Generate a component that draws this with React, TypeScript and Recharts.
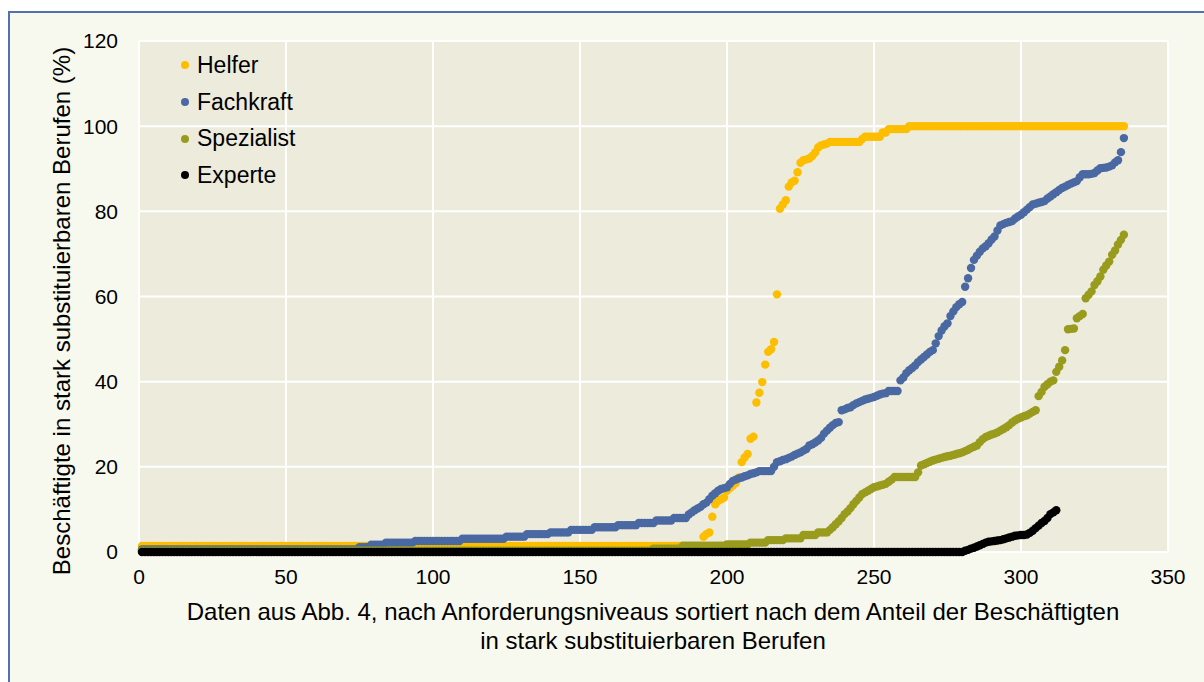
import { ScatterChart, Scatter, XAxis, YAxis, CartesianGrid } from "recharts";

// values per series: a plain number is one occupation, [value, count] is a run of equal values
type Run = number | [number, number];

const helferRuns: Run[] = [
  [1.4, 191],
  3.6, 4.2, 4.6, 8.3, 11.2, 12.0, 12.4, 12.8, 14.4, 15.0, 15.6, 16.2, 17.5, 21.1, 22.2,
  23.0, 26.6, 27.1, 35.1, 37.4, 39.9, 44.0, 47.0, 47.6, 49.3, 60.5, 80.6, 81.6, 82.6,
  85.8, 86.8, 87.2, 89.2, 91.4, 92.0, 92.2, 92.4, 93.0, 93.8, 95.0, 95.5, 95.7, 95.9,
  [96.3, 11], 97.0, [97.5, 6], [98.5, 2], [99.3, 7], [100, 74],
];

const fachkraftRuns: Run[] = [
  [0.6, 74], [1.1, 4], [1.7, 5], [2.2, 10], [2.6, 16], [3.1, 15], [3.6, 7], [4.2, 8],
  [4.6, 7], [5.2, 8], [5.8, 8], [6.3, 7], [6.8, 6], [7.4, 6], [8.0, 5],
  8.8, 9.3, 9.8, 10.2, 10.6, 11.2, 11.6, 12.4, 13.2, 13.8, 14.4, 14.8, 15.0, 15.2, 16.0,
  16.7, 17.0, 17.3, 17.5, 17.8, 18.0, 18.3, 18.5, 18.7,
  [19.0, 5],
  20.0, 21.1, 21.3, 21.6, 21.8, 22.1, 22.4, 22.8, 23.1, 23.4, 23.8, 24.2, 25.0, 25.3, 25.7,
  26.2, 26.8, 27.8, 28.5, 29.2, 29.8, 30.3, 30.5, 33.3, 33.5, 33.8, 34.0, 34.5, 34.9, 35.2,
  35.5, 35.8, 36.0, 36.2, 36.4, 36.7, 37.0, 37.2, 37.3,
  [37.8, 4],
  40.3, 41.0, 42.0, 42.7, 43.2, 43.8, 44.6, 45.2, 45.8, 46.4, 47.0, 47.4, 49.0, 50.7, 52.0,
  53.0, 53.7, 55.4, 56.5, 57.5, 58.2, 58.7, 62.3, 64.3, 66.7, 68.6, 69.6, 70.5, 71.3, 71.8,
  72.5, 73.4, 74.1, 75.5, 76.7, 77.0, 77.3, 77.5, 77.7, 78.3, 78.8, 79.2, 79.8, 80.4, 81.0,
  81.6, 81.8, 82.0, 82.2, 82.4, 83.0, 83.5, 84.0, 84.5, 85.0, 85.5, 85.8, 86.2, 86.5, 86.8,
  87.1, 88.0, 88.7, 88.7, 88.7, 88.8, 89.0, 89.6, 90.1, 90.2, 90.3, 90.5, 90.8, 91.5, 92.0,
  93.9, 97.2,
];

const spezialistRuns: Run[] = [
  [0.3, 174], [0.8, 10], [1.5, 15], [1.8, 8], [2.2, 6], [2.8, 6], [3.2, 6], [4.0, 5], [4.6, 4],
  5.2, 5.8, 6.5, 7.2, 8.0, 8.9, 9.5, 10.3, 11.2, 12.0, 12.8, 13.6, 14.0, 14.4, 14.8, 15.2,
  15.4, 15.6, 15.8, 16.0, 16.5, 17.0,
  [17.6, 8],
  18.7, 20.3, 20.6, 20.9, 21.2, 21.5, 21.7, 21.9, 22.1, 22.3, 22.5, 22.6, 22.8, 23.0, 23.2,
  23.4, 23.7, 24.0, 24.4, 24.7, 25.0, 25.8, 26.5, 27.0, 27.3, 27.6, 27.8, 28.1, 28.5, 28.9,
  29.3, 29.8, 30.4, 30.9, 31.3, 31.6, 31.9, 32.1, 32.5, 32.9, 33.3, 36.6, 37.6, 38.8, 39.4,
  40.0, 40.3, 42.3, 43.5, 45.0, 47.4, 52.3, 52.4, 52.5, 54.9, 55.4, 55.9, 59.6, 60.4, 61.2,
  62.7, 63.6, 64.7, 66.3, 67.3, 68.2, 69.8, 70.8, 72.2, 73.3, 74.5,
];

const experteRuns: Run[] = [
  [0, 280],
  0.3, 0.5, 0.8, 1.0, 1.3, 1.6, 1.9, 2.2, 2.4, 2.5, 2.6, 2.7, 2.8, 3.0, 3.2, 3.4, 3.6, 3.8,
  3.9, 4.0, 4.0, 4.1, 4.5, 5.0, 5.6, 6.2, 6.8, 7.3, 8.0, 8.9, 9.3, 9.8,
];

const xTicks = [0, 50, 100, 150, 200, 250, 300, 350];
const yTicks = [0, 20, 40, 60, 80, 100, 120];

const expand = (runs: Run[]) => {
  const values: number[] = [];
  runs.forEach((r) => {
    if (Array.isArray(r)) {
      for (let i = 0; i < r[1]; i++) values.push(r[0]);
    } else values.push(r);
  });
  return values.map((y, i) => ({ x: i + 1, y }));
};

const series = [
  { name: "Helfer", color: "#FDBE00", data: expand(helferRuns) },
  { name: "Fachkraft", color: "#4A69A3", data: expand(fachkraftRuns) },
  { name: "Spezialist", color: "#999B1C", data: expand(spezialistRuns) },
  { name: "Experte", color: "#000000", data: expand(experteRuns) },
];

const FONT = "'Liberation Sans', Arial, sans-serif";

export default function App() {
  return (
    <div style={{ position: "absolute", left: 0, top: 0, width: 1204, height: 682, background: "#fff", overflow: "hidden" }}>
      <div
        style={{
          position: "absolute",
          left: 8,
          top: 11,
          width: 1210,
          height: 690,
          background: "#F8F9EE",
          border: "2px solid #5172AE",
        }}
      />
      <div style={{ position: "absolute", left: 0, top: 0 }}>
        <ScatterChart width={1204} height={682} margin={{ top: 41, right: 36, bottom: 100, left: 79 }}>
          <CartesianGrid fill="#ECEBDC" stroke="#FFFFFF" strokeWidth={2} />
          <XAxis
            type="number"
            dataKey="x"
            domain={[0, 350]}
            ticks={xTicks}
            axisLine={false}
            tickLine={false}
            tickSize={0}
            tickMargin={17}
            height={30}
            tick={{ fill: "#000", fontSize: 21, fontFamily: FONT }}
          />
          <YAxis
            type="number"
            dataKey="y"
            domain={[0, 120]}
            ticks={yTicks}
            axisLine={false}
            tickLine={false}
            tickSize={0}
            tickMargin={21}
            width={60}
            tick={{ fill: "#000", fontSize: 21, fontFamily: FONT }}
          />
          {series.map((s) => (
            <Scatter
              key={s.name}
              name={s.name}
              data={s.data}
              fill={s.color}
              isAnimationActive={false}
              shape={(p: any) => <circle cx={p.cx} cy={p.cy} r={4.2} fill={s.color} />}
            />
          ))}
        </ScatterChart>
      </div>
      <div style={{ position: "absolute", left: 181, top: 47, fontFamily: FONT, fontSize: 23, color: "#000" }}>
        {series.map((s) => (
          <div key={s.name} style={{ height: 36.7, display: "flex", alignItems: "center", whiteSpace: "nowrap" }}>
            <span
              style={{
                width: 8,
                height: 8,
                borderRadius: 4,
                background: s.color,
                display: "inline-block",
                marginRight: 8,
              }}
            />
            {s.name}
          </div>
        ))}
      </div>
      <div
        style={{
          position: "absolute",
          left: 62,
          top: 311,
          transform: "translate(-50%, -50%) rotate(-90deg)",
          whiteSpace: "nowrap",
          fontFamily: FONT,
          fontSize: 24,
          color: "#000",
        }}
      >
        Beschäftigte in stark substituierbaren Berufen (%)
      </div>
      <div
        style={{
          position: "absolute",
          left: 653,
          top: 597,
          transform: "translateX(-50%)",
          whiteSpace: "nowrap",
          textAlign: "center",
          fontFamily: FONT,
          fontSize: 24,
          lineHeight: "29px",
          color: "#000",
        }}
      >
        Daten aus Abb. 4, nach Anforderungsniveaus sortiert nach dem Anteil der Beschäftigten
        <br />
        in stark substituierbaren Berufen
      </div>
    </div>
  );
}
